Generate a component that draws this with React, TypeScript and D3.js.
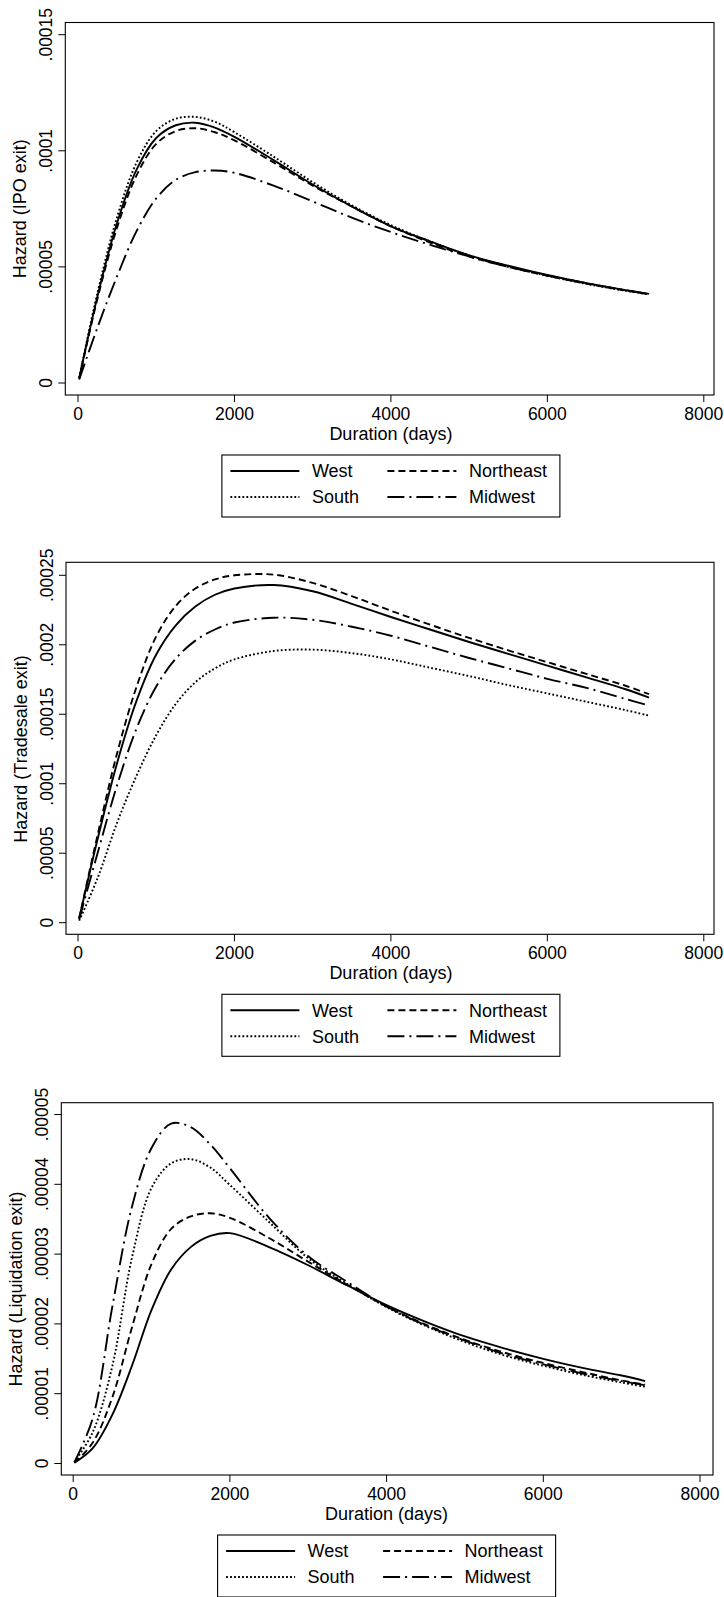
import React from "react";
import * as d3 from "d3";

const DAYS = [15, 250, 500, 750, 1000, 1250, 1500, 1750, 2000, 2500, 3000, 3500, 4000, 4500, 5000, 5500, 6000, 6500, 7000, 7300];

const X_TICKS = [0, 2000, 4000, 6000, 8000];
const X_TICK_LABELS = ["0", "2000", "4000", "6000", "8000"];

// Values are in units of 1e-5
const IPO_WEST = [0.2, 3.75, 6.9, 9.2, 10.55, 11.1, 11.21, 11.0, 10.6, 9.6, 8.55, 7.6, 6.75, 6.1, 5.5, 5.05, 4.65, 4.3, 4.0, 3.84];
const IPO_SOUTH = [0.22, 3.9, 7.15, 9.5, 10.85, 11.38, 11.46, 11.25, 10.8, 9.75, 8.65, 7.65, 6.8, 6.1, 5.5, 5.03, 4.62, 4.27, 3.97, 3.82];
const IPO_NORTHEAST = [0.19, 3.65, 6.7, 8.95, 10.3, 10.85, 10.97, 10.8, 10.45, 9.5, 8.5, 7.6, 6.75, 6.05, 5.45, 5.0, 4.62, 4.28, 3.98, 3.83];
const IPO_MIDWEST = [0.15, 2.4, 4.6, 6.55, 7.95, 8.75, 9.08, 9.15, 9.05, 8.5, 7.82, 7.12, 6.5, 5.95, 5.45, 5.0, 4.63, 4.3, 4.0, 3.84];
const IPO_Y_TICKS = [0, 5, 10, 15];
const IPO_Y_LABELS = ["0", ".00005", ".0001", ".00015"];

const TRADE_WEST = [0.3, 6.0, 11.5, 16.0, 19.3, 21.4, 22.75, 23.6, 24.05, 24.3, 23.85, 22.95, 22.0, 21.1, 20.2, 19.35, 18.5, 17.65, 16.8, 16.2];
const TRADE_SOUTH = [0.15, 3.2, 7.2, 10.6, 13.5, 15.75, 17.3, 18.3, 18.95, 19.55, 19.65, 19.4, 18.95, 18.35, 17.75, 17.1, 16.5, 15.9, 15.3, 14.9];
const TRADE_NORTHEAST = [0.3, 6.3, 12.2, 17.0, 20.6, 22.8, 24.05, 24.7, 25.0, 25.05, 24.45, 23.5, 22.45, 21.45, 20.5, 19.6, 18.75, 17.9, 17.05, 16.45];
const TRADE_MIDWEST = [0.25, 5.0, 9.9, 14.0, 17.0, 19.0, 20.3, 21.1, 21.6, 21.95, 21.8, 21.3, 20.65, 19.85, 19.05, 18.3, 17.55, 16.9, 16.1, 15.62];
const TRADE_Y_TICKS = [0, 5, 10, 15, 20, 25];
const TRADE_Y_LABELS = ["0", ".00005", ".0001", ".00015", ".0002", ".00025"];

const LIQ_WEST = [0.01, 0.22, 0.7, 1.4, 2.2, 2.78, 3.1, 3.26, 3.3, 3.1, 2.84, 2.55, 2.27, 2.03, 1.82, 1.65, 1.5, 1.37, 1.26, 1.18];
const LIQ_SOUTH = [0.02, 0.45, 1.4, 2.95, 3.95, 4.3, 4.36, 4.24, 3.99, 3.46, 2.94, 2.57, 2.24, 1.97, 1.74, 1.55, 1.4, 1.27, 1.16, 1.1];
const LIQ_NORTHEAST = [0.01, 0.3, 0.95, 1.95, 2.86, 3.36, 3.54, 3.585, 3.52, 3.23, 2.89, 2.56, 2.25, 1.99, 1.77, 1.59, 1.44, 1.31, 1.19, 1.13];
const LIQ_MIDWEST = [0.02, 0.65, 2.25, 3.68, 4.52, 4.87, 4.82, 4.57, 4.23, 3.52, 2.97, 2.6, 2.25, 1.98, 1.76, 1.57, 1.42, 1.29, 1.18, 1.12];
const LIQ_Y_TICKS = [0, 1, 2, 3, 4, 5];
const LIQ_Y_LABELS = ["0", ".00001", ".00002", ".00003", ".00004", ".00005"];

const SERIES_NAMES = ["West", "South", "Northeast", "Midwest"];
const LEGEND_ORDER = [["West", "Northeast"], ["South", "Midwest"]];

const DASH: Record<string, string | undefined> = {
  West: undefined,
  South: "1.8,2.2",
  Northeast: "7,4",
  Midwest: "17,5,2,5",
};

const FONT = "'Liberation Sans', Arial, Helvetica, sans-serif";

type Layout = {
  left: number; right: number; top: number; bottom: number;
  x0: number; x1: number; y0: number; y1: number; yMax: number;
};

function Panel({ layout, series, yTicks, yLabels, yTitle }: {
  layout: Layout; series: number[][]; yTicks: number[]; yLabels: string[]; yTitle: string;
}) {
  const x = d3.scaleLinear().domain([0, 8000]).range([layout.x0, layout.x1]);
  const y = d3.scaleLinear().domain([0, layout.yMax]).range([layout.y0, layout.y1]);
  const line = d3.line<number>()
    .x((_, i) => x(DAYS[i]))
    .y((d) => y(d))
    .curve(d3.curveCatmullRom.alpha(0.5));
  const xMid = (x(0) + x(8000)) / 2;
  const yMid = (y(0) + y(layout.yMax)) / 2;
  const legW = 338, legH = 62;
  const legX = xMid - legW / 2;
  const legY = layout.bottom + 60;
  return (
    <g>
      {SERIES_NAMES.map((name, i) => (
        <path key={name} d={line(series[i]) || ""} fill="none" stroke="#000"
          strokeWidth={1.9} strokeDasharray={DASH[name]} />
      ))}
      <rect x={layout.left} y={layout.top} width={layout.right - layout.left}
        height={layout.bottom - layout.top} fill="none" stroke="#000" strokeWidth={1.1} />
      {yTicks.map((t, i) => (
        <g key={"y" + t}>
          <line x1={layout.left - 7} x2={layout.left} y1={y(t)} y2={y(t)} stroke="#000" strokeWidth={1} />
          <text transform={`translate(${layout.left - 13},${y(t)}) rotate(-90)`} textAnchor="middle"
            fontSize={17.5} fontFamily={FONT} fill="#000">{yLabels[i]}</text>
        </g>
      ))}
      {X_TICKS.map((t, i) => (
        <g key={"x" + t}>
          <line x1={x(t)} x2={x(t)} y1={layout.bottom} y2={layout.bottom + 7} stroke="#000" strokeWidth={1} />
          <text x={x(t)} y={layout.bottom + 24.5} textAnchor="middle" fontSize={17.5}
            fontFamily={FONT} fill="#000">{X_TICK_LABELS[i]}</text>
        </g>
      ))}
      <text x={xMid} y={layout.bottom + 45} textAnchor="middle" fontSize={18} fontFamily={FONT} fill="#000">
        Duration (days)
      </text>
      <text transform={`translate(${layout.left - 39},${yMid}) rotate(-90)`} textAnchor="middle"
        fontSize={18} fontFamily={FONT} fill="#000">{yTitle}</text>
      <rect x={legX} y={legY} width={legW} height={legH} fill="#fff" stroke="#000" strokeWidth={1.1} />
      {LEGEND_ORDER.map((row, r) => row.map((name, c) => {
        const cy = legY + 16 + r * 26;
        const sx = legX + 8.5 + c * 157;
        return (
          <g key={name}>
            <line x1={sx} x2={sx + 69} y1={cy} y2={cy} stroke="#000" strokeWidth={1.9}
              strokeDasharray={DASH[name]} />
            <text x={sx + 81.5} y={cy + 6.3} fontSize={18} fontFamily={FONT} fill="#000">{name}</text>
          </g>
        );
      }))}
    </g>
  );
}

const P1: Layout = { left: 65.3, right: 714, top: 22.5, bottom: 395, x0: 78, x1: 703.8, y0: 383, y1: 34.7, yMax: 15 };
const P2: Layout = { left: 66, right: 714, top: 562.3, bottom: 934.3, x0: 78, x1: 703.8, y0: 922.7, y1: 575.3, yMax: 25 };
const P3: Layout = { left: 61.3, right: 713, top: 1102.7, bottom: 1475, x0: 73.2, x1: 700, y0: 1463.5, y1: 1114.5, yMax: 5 };

export default function App() {
  return (
    <div style={{ position: "absolute", left: 0, top: 0 }}>
      <svg width={724} height={1597} style={{ display: "block", background: "#fff" }}>
        <rect width={724} height={1597} fill="#fff" />
        <Panel layout={P1} yTicks={IPO_Y_TICKS} yLabels={IPO_Y_LABELS} yTitle="Hazard (IPO exit)"
          series={[IPO_WEST, IPO_SOUTH, IPO_NORTHEAST, IPO_MIDWEST]} />
        <Panel layout={P2} yTicks={TRADE_Y_TICKS} yLabels={TRADE_Y_LABELS} yTitle="Hazard (Tradesale exit)"
          series={[TRADE_WEST, TRADE_SOUTH, TRADE_NORTHEAST, TRADE_MIDWEST]} />
        <Panel layout={P3} yTicks={LIQ_Y_TICKS} yLabels={LIQ_Y_LABELS} yTitle="Hazard (Liquidation exit)"
          series={[LIQ_WEST, LIQ_SOUTH, LIQ_NORTHEAST, LIQ_MIDWEST]} />
      </svg>
    </div>
  );
}
